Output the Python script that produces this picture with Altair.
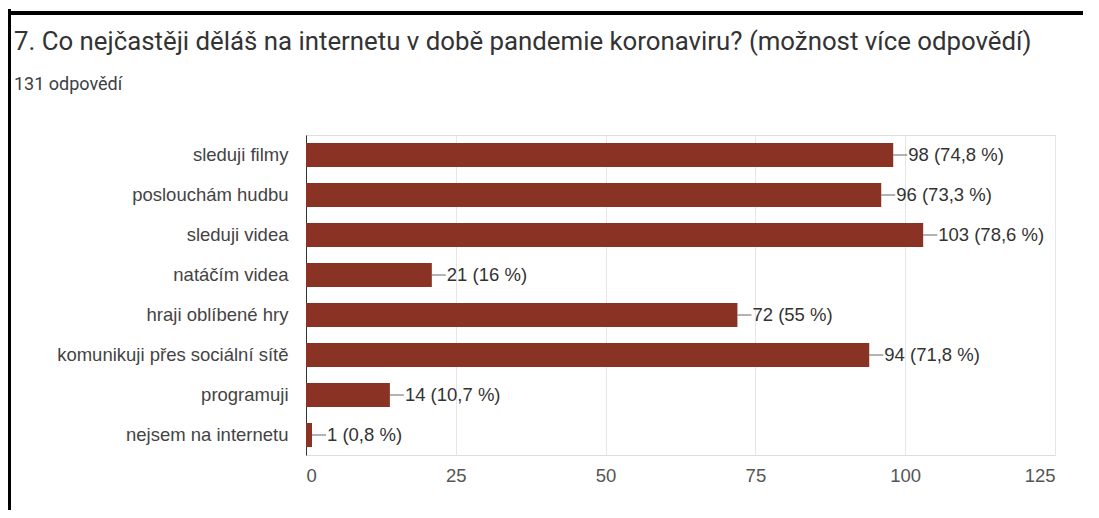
import altair as alt
import pandas as pd

categories = [
    "sleduji filmy",
    "poslouchám hudbu",
    "sleduji videa",
    "natáčím videa",
    "hraji oblíbené hry",
    "komunikuji přes sociální sítě",
    "programuji",
    "nejsem na internetu",
]
counts = [98, 96, 103, 21, 72, 94, 14, 1]
percents = ["74,8", "73,3", "78,6", "16", "55", "71,8", "10,7", "0,8"]
x_ticks = [0, 25, 50, 75, 100, 125]

title_text = "7. Co nejčastěji děláš na internetu v době pandemie koronaviru? (možnost více odpovědí)"
subtitle_text = "131 odpovědí"

df = pd.DataFrame({"kategorie": categories, "pocet": counts, "procenta": percents})
df["popisek"] = df["pocet"].astype(str) + " (" + df["procenta"] + " %)"

BAR = "#8a3324"
FONT = "Liberation Sans"
TFONT = "Roboto"
FS = 18.5

y_enc = alt.Y(
    "kategorie:N",
    sort=categories,
    title=None,
    scale=alt.Scale(paddingInner=0.4, paddingOuter=0.2),
    axis=alt.Axis(
        labelFontSize=FS,
        labelColor="#444444",
        labelFont=FONT,
        labelPadding=18,
        labelLimit=400,
        ticks=False,
        domainColor="#333333",
        domainWidth=1,
        grid=False,
    ),
)
x_enc = alt.X(
    "pocet:Q",
    title=None,
    scale=alt.Scale(domain=[0, 125], nice=False),
    axis=alt.Axis(
        values=x_ticks,
        labelFontSize=FS,
        labelColor="#555555",
        labelFont=FONT,
        labelPadding=11,
        ticks=False,
        domain=False,
        grid=True,
        gridColor="#e6e6e6",
    ),
)

base = alt.Chart(df)
bars = base.mark_bar(color=BAR).encode(x=x_enc, y=y_enc)
leaders = base.mark_rule(color="#666666", strokeWidth=1, x2Offset=14).encode(
    x="pocet:Q", x2="pocet:Q", y=alt.Y("kategorie:N", sort=categories)
)
labels = base.mark_text(
    align="left", baseline="middle", dx=15, fontSize=FS, font=FONT, color="#333333"
).encode(x="pocet:Q", y=alt.Y("kategorie:N", sort=categories), text="popisek:N")

one = alt.Data(values=[{"k": 1}])
frame_left = alt.Chart(one).mark_rule(color="black", strokeWidth=4).encode(
    x=alt.value(-297), y=alt.value(-126), y2=alt.value(400)
)
frame_top = alt.Chart(one).mark_rule(color="black", strokeWidth=4).encode(
    x=alt.value(-299), x2=alt.value(800), y=alt.value(-122)
)
title_mark = alt.Chart(one).mark_text(
    align="left", baseline="middle", fontSize=25.8, font=TFONT, color="#333333"
).encode(x=alt.value(-292), y=alt.value(-93), text=alt.value(title_text))
subtitle_mark = alt.Chart(one).mark_text(
    align="left", baseline="middle", fontSize=18, font=TFONT, color="#3c4043"
).encode(x=alt.value(-292), y=alt.value(-50), text=alt.value(subtitle_text))

chart = (
    alt.layer(bars, leaders, labels, frame_left, frame_top, title_mark, subtitle_mark)
    .properties(
        width=749,
        height=320,
        padding={"left": 298, "top": 127, "right": 28, "bottom": 55},
        autosize=alt.AutoSizeParams(type="none"),
    )
    .configure_view(stroke="#e6e6e6")
    .configure(background="white")
)

chart.save("out.html", embed_options={"renderer": "svg", "actions": False})
